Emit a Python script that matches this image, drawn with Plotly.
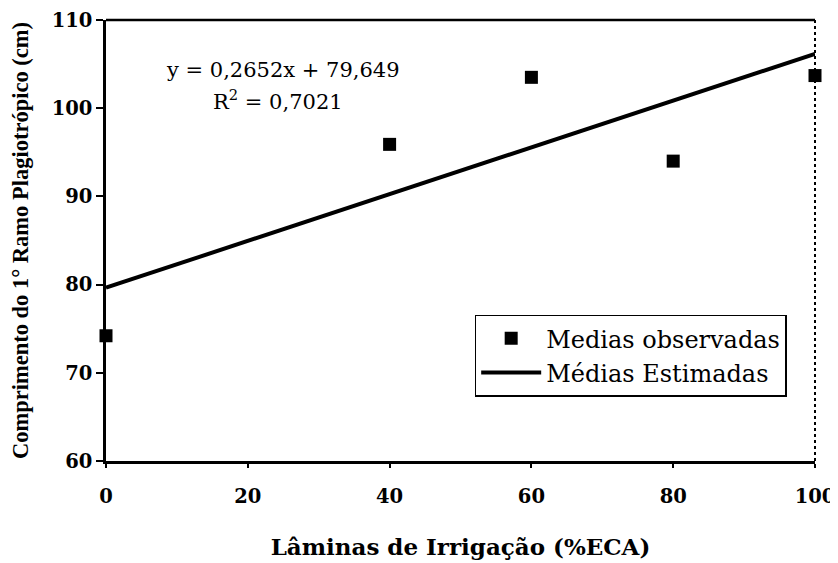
import plotly.graph_objects as go

x_obs = [0, 40, 60, 80, 100]
y_obs = [74.2, 95.9, 103.5, 94.0, 103.7]
slope = 0.2652
intercept = 79.649
x_fit = [0, 100]
y_fit = [slope * v + intercept for v in x_fit]
x_ticks = [0, 20, 40, 60, 80, 100]
y_ticks = [60, 70, 80, 90, 100, 110]
eq_text = "y = 0,2652x + 79,649"
r2_text = "R<sup>2</sup> = 0,7021"

wide_serif = "DejaVu Serif, serif"
times = "Liberation Serif, Times New Roman, serif"

fig = go.Figure()
fig.add_trace(go.Scatter(
    x=x_obs, y=y_obs, mode="markers", name="Medias observadas",
    marker=dict(symbol="square", size=13, color="black"),
    cliponaxis=False,
))
fig.add_trace(go.Scatter(
    x=x_fit, y=y_fit, mode="lines", name="Médias Estimadas",
    line=dict(color="black", width=4),
    cliponaxis=False,
))

fig.update_layout(
    width=830, height=555,
    margin=dict(l=98, r=23, t=12, b=102, autoexpand=False),
    paper_bgcolor="white", plot_bgcolor="white",
    font=dict(family=wide_serif, color="black"),
    showlegend=True,
    legend=dict(
        x=0.52, y=0.332, xanchor="left", yanchor="top",
        bgcolor="white", bordercolor="black", borderwidth=1.5,
        font=dict(size=24, family=wide_serif, color="black"),
        tracegroupgap=0, itemwidth=60,
    ),
    xaxis=dict(
        range=[0, 100], tickvals=x_ticks,
        showgrid=False, zeroline=False,
        showline=True, linecolor="black", linewidth=2.5,
        ticks="outside", ticklen=4, tickwidth=1.5, tickcolor="black",
        ticklabelstandoff=12, ticklabeloverflow="allow",
        tickfont=dict(size=19.5, family=wide_serif, weight="bold"),
        title=dict(text="Lâminas de Irrigação (%ECA)",
                   font=dict(size=23, family=wide_serif, weight="bold"),
                   standoff=32),
    ),
    yaxis=dict(
        range=[60, 110], tickvals=y_ticks,
        showgrid=False, zeroline=False,
        showline=True, linecolor="black", linewidth=2.5,
        ticks="outside", ticklen=7, tickwidth=1.5, tickcolor="black",
        ticklabeloverflow="allow",
        tickfont=dict(size=19.5, family=wide_serif, weight="bold"),
        title=dict(text="Comprimento do 1° Ramo Plagiotrópico (cm)",
                   font=dict(size=22.5, family=times, weight="bold"),
                   standoff=18),
    ),
)

fig.add_shape(type="line", xref="paper", yref="paper", x0=0, x1=1, y0=1, y1=1,
              line=dict(color="black", width=2.5))
fig.add_shape(type="line", xref="paper", yref="paper", x0=1, x1=1, y0=0, y1=1,
              line=dict(color="black", width=2, dash="dot"))

fig.add_annotation(x=0.249, y=0.886, xref="paper", yref="paper",
                   xanchor="center", yanchor="middle", text=eq_text,
                   showarrow=False,
                   font=dict(size=21, family=wide_serif, color="black"))
fig.add_annotation(x=0.242, y=0.818, xref="paper", yref="paper",
                   xanchor="center", yanchor="middle", text=r2_text,
                   showarrow=False,
                   font=dict(size=21, family=wide_serif, color="black"))

fig.write_html("out.html")
